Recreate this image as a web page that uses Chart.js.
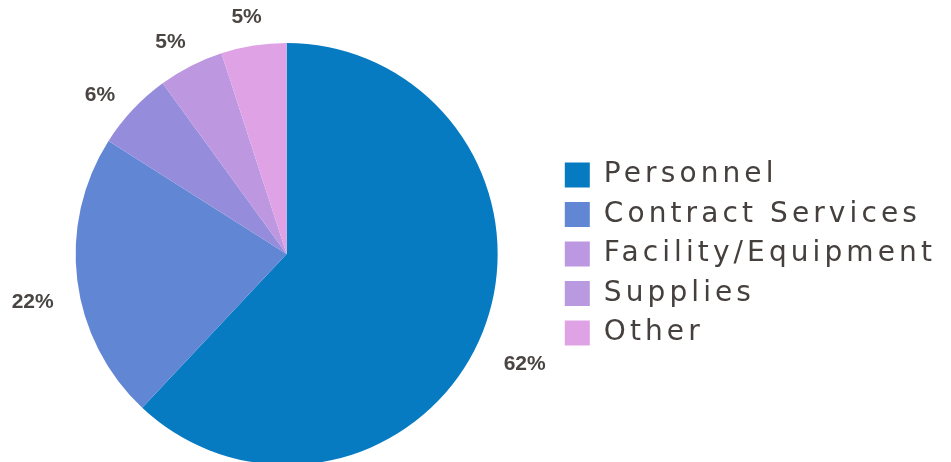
<!DOCTYPE html>
<html lang="en">
<head>
<meta charset="UTF-8">
<title>Budget breakdown</title>
<script src="https://cdn.jsdelivr.net/npm/chart.js"></script>
<style>
    html, body { margin: 0; padding: 0; background: #ffffff; overflow: hidden; }
    .chart-box { width: 951px; height: 470px; position: relative; }
</style>
</head>
<body>
<div class="chart-box">
    <canvas id="pieChart"></canvas>
</div>
<script>
    const categories = ['Personnel', 'Contract Services', 'Facility/Equipment', 'Supplies', 'Other'];
    const shares = [62, 22, 6, 5, 5];
    const sliceColors = ['#077bc2', '#6186d4', '#958ddb', '#bd98e1', '#dfa3e5'];
    const legendColors = ['#077bc2', '#6186d4', '#bc98e2', '#b999e0', '#dfa3e5'];

    // wide lettering for the legend (canvas letterSpacing)
    const spacingPlugin = {
        id: 'spacing',
        beforeLayout(chart) { chart.ctx.letterSpacing = '4.1px'; },
        beforeDraw(chart) { chart.ctx.letterSpacing = '4.1px'; }
    };

    // percentage labels outside the slices
    const pctLabels = {
        id: 'pctLabels',
        afterDatasetsDraw(chart) {
            const ctx = chart.ctx;
            const meta = chart.getDatasetMeta(0);
            ctx.save();
            ctx.letterSpacing = '0px';
            ctx.font = 'bold 21px "Liberation Sans", Arial, sans-serif';
            ctx.fillStyle = '#4a4542';
            ctx.textAlign = 'center';
            ctx.textBaseline = 'middle';
            meta.data.forEach((arc, i) => {
                const p = arc.getProps(['x', 'y', 'startAngle', 'endAngle', 'outerRadius'], true);
                const mid = (p.startAngle + p.endAngle) / 2;
                const r = p.outerRadius + 45;
                ctx.fillText(shares[i] + '%', p.x + Math.cos(mid) * r, p.y + Math.sin(mid) * r + 16);
            });
            ctx.restore();
        }
    };

    new Chart(document.getElementById('pieChart'), {
        type: 'pie',
        data: {
            labels: categories,
            datasets: [{
                data: shares,
                backgroundColor: sliceColors,
                borderWidth: 0,
                hoverOffset: 0,
                offset: 0
            }]
        },
        options: {
            responsive: true,
            maintainAspectRatio: false,
            animation: false,
            layout: { padding: { top: 43, bottom: 5, left: 20, right: 5 } },
            plugins: {
                tooltip: { enabled: false },
                legend: {
                    position: 'right',
                    align: 'center',
                    labels: {
                        boxWidth: 25,
                        boxHeight: 25,
                        padding: 11.5,
                        color: '#45403d',
                        font: { family: '"DejaVu Sans", sans-serif', size: 28 },
                        generateLabels(chart) {
                            const items = Chart.overrides.pie.plugins.legend.labels.generateLabels(chart);
                            items.forEach((it, i) => {
                                it.fillStyle = legendColors[i];
                                it.strokeStyle = legendColors[i];
                                it.lineWidth = 0;
                            });
                            return items;
                        }
                    }
                }
            }
        },
        plugins: [spacingPlugin, pctLabels]
    });
</script>
</body>
</html>
